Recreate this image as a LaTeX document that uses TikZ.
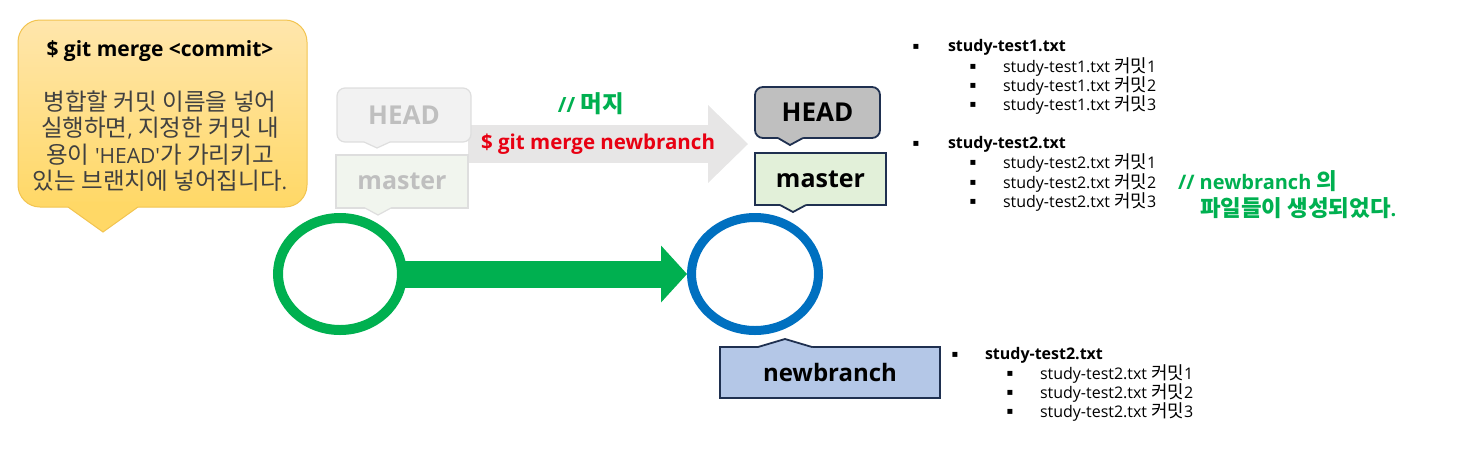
\documentclass[tikz,border=0pt]{standalone}
\usepackage{fontspec}
\setmainfont{Open Sans}[Ligatures=TeXOff]
\newfontfamily\latinfont{Open Sans}
\newfontfamily\krfont{Noto Sans CJK KR}[Scale=1.12]
\newfontfamily\symfont{DejaVu Sans}
\usetikzlibrary{arrows.meta,shapes.geometric}

% Hangul in Noto Sans CJK KR, the rest in Open Sans
\XeTeXinterchartokenstate=1
\newXeTeXintercharclass\krclass
\makeatletter
\count@="AC00
\loop
  \XeTeXcharclass\count@=\krclass
  \advance\count@ by 1
\ifnum\count@<"D7A4 \repeat
\makeatother
\XeTeXinterchartoks 0 \krclass = {\krfont}
\XeTeXinterchartoks 4095 \krclass = {\krfont}
\XeTeXinterchartoks \krclass 0 = {\latinfont}
\XeTeXinterchartoks \krclass 4095 = {\latinfont}

\definecolor{calloutTop}{RGB}{255,230,172}
\definecolor{calloutBot}{RGB}{255,216,102}
\definecolor{calloutLine}{RGB}{242,196,80}
\definecolor{bodytext}{RGB}{64,64,64}
\definecolor{fadegray}{RGB}{242,242,242}
\definecolor{fadegreen}{RGB}{241,245,238}
\definecolor{fadeline}{RGB}{222,222,222}
\definecolor{fadetext}{RGB}{191,191,191}
\definecolor{arrowgray}{RGB}{231,230,230}
\definecolor{mergegreen}{RGB}{0,176,80}
\definecolor{mergered}{RGB}{232,0,18}
\definecolor{navy}{RGB}{31,48,80}
\definecolor{headgray}{RGB}{191,191,191}
\definecolor{mastergreen}{RGB}{226,240,217}
\definecolor{branchblue}{RGB}{180,199,231}
\definecolor{commitblue}{RGB}{0,112,192}

% tail of a label box: fill, line, left x, tip x, right x, base y, tip y
\newcommand{\boxtail}[7]{%
  \fill[#1] (#3,{#6-(#7-#6)/5}) -- (#3,#6) -- (#4,#7) -- (#5,#6) -- (#5,{#6-(#7-#6)/5}) -- cycle;
  \draw[#2] (#3,#6) -- (#4,#7) -- (#5,#6);}

\begin{document}
\begin{tikzpicture}[x=1pt,y=-1pt,
  every node/.style={inner sep=0pt, outer sep=0pt},
  tag/.style={draw=navy, line width=1.8pt, minimum height=51pt,
    font=\fontsize{25}{25}\selectfont\bfseries},
  oldtag/.style={draw=fadeline, line width=1.2pt, text=fadetext,
    font=\fontsize{25}{25}\selectfont\bfseries},
  commit/.style={ellipse, fill=white},
  bullet/.style={font=\symfont\fontsize{10}{10}\selectfont},
  item/.style={anchor=west, font=\fontsize{16}{16}\selectfont},
  file/.style={anchor=west, font=\fontsize{16}{16}\selectfont\bfseries},
  greennote/.style={anchor=west, text=mergegreen, font=\fontsize{20}{20}\selectfont\bfseries}]

  \useasboundingbox (0,0) rectangle (1462,448);

  % Callout
  \node[rounded corners=22pt, top color=calloutTop, bottom color=calloutBot,
    draw=calloutLine, line width=1pt, minimum width=289pt, minimum height=187pt]
    (note) at (162.5,113.5) {};
  \boxtail{calloutBot}{calloutLine,line width=1pt}{68}{103}{138}{207}{232}
  \node[font=\fontsize{21}{21}\selectfont\bfseries] (cmd) at (160,51) {\$ git merge <commit>};
  \node[align=center, text=bodytext, font=\fontsize{21}{26.5}\selectfont]
    (desc) at (160,141) {병합할 커밋 이름을 넣어\\실행하면, 지정한 커밋 내\\용이 'HEAD'가 가리키고\\있는 브랜치에 넣어집니다.};

  % Merge arrow
  \coordinate (from) at (468,144);
  \coordinate (to) at (748,144);
  \draw[arrowgray, line width=38pt, -{Triangle[length=40pt,width=78pt,line width=0pt]}] (from) -- (to);
  \node[text=mergegreen, font=\fontsize{21}{21}\selectfont\bfseries] (mlabel) at (591,104) {// 머지};
  \node[text=mergered, font=\fontsize{20.5}{20.5}\selectfont\bfseries] (mcmd) at (598,144) {\$ git merge newbranch};

  % Before the merge
  \node[oldtag, rounded corners=8pt, fill=fadegray, minimum width=134pt, minimum height=54pt,
    font=\fontsize{26}{26}\selectfont\bfseries] (oldhead) at (404,115) {HEAD};
  \boxtail{fadegray}{fadeline,line width=1.2pt}{364}{377}{390}{142}{148}
  \node[oldtag, fill=fadegreen, minimum width=132pt, minimum height=53pt]
    (oldmaster) at (402,181.5) {master};
  \boxtail{fadegreen}{fadeline,line width=1.2pt}{365}{378}{391}{208}{215}

  % Commits
  \node[commit, draw=mergegreen, line width=10pt, minimum width=124pt, minimum height=112pt,
    outer sep=5pt] (c1) at (340,274) {};
  \node[commit, draw=commitblue, line width=9pt, minimum width=127pt, minimum height=113pt,
    outer sep=4.5pt] (c2) at (755,274) {};
  \draw[mergegreen, line width=27pt, -{Triangle[length=26pt,width=57pt,line width=0pt]}]
    ([xshift=-6pt]c1.east) -- (c2.west);

  % After the merge
  \node[tag, rounded corners=8pt, fill=headgray, minimum width=125pt,
    font=\fontsize{26}{26}\selectfont\bfseries] (head) at (817.5,112.5) {HEAD};
  \boxtail{headgray}{navy,line width=1.8pt}{778}{790}{803}{138}{145}
  \node[tag, fill=mastergreen, minimum width=131pt, minimum height=52pt] (master) at (820.5,179) {master};
  \boxtail{mastergreen}{navy,line width=1.8pt}{780}{793}{806}{205}{212}
  \node[tag, fill=branchblue, minimum width=220pt, font=\fontsize{24}{24}\selectfont\bfseries]
    (newbranch) at (830,372.5) {newbranch};
  \boxtail{branchblue}{navy,line width=1.8pt}{758}{785}{812}{347}{339}

  % Files on master
  \node[bullet] (b1) at (916,47) {▪};
  \node[file] (f1) at (948,47) {study-test1.txt};
  \foreach \i/\y in {1/67,2/86,3/105} {
    \node[bullet] (b1\i) at (973,\y) {▪};
    \node[item] (f1\i) at (1003,\y) {study-test1.txt 커밋\i};
  }
  \node[bullet] (b2) at (916,144) {▪};
  \node[file] (f2) at (948,144) {study-test2.txt};
  \foreach \i/\y in {1/163,2/183,3/202} {
    \node[bullet] (b2\i) at (973,\y) {▪};
    \node[item] (f2\i) at (1003,\y) {study-test2.txt 커밋\i};
  }
  \node[greennote] (msg1) at (1178,181) {// newbranch 의};
  \node[greennote] (msg2) at (1200,208) {파일들이 생성되었다.};

  % Files on newbranch
  \node[bullet] (b3) at (955,355) {▪};
  \node[file] (f3) at (985,355) {study-test2.txt};
  \foreach \i/\y in {1/374,2/393,3/412} {
    \node[bullet] (b3\i) at (1010,\y) {▪};
    \node[item] (f3\i) at (1040,\y) {study-test2.txt 커밋\i};
  }

\end{tikzpicture}
\end{document}
